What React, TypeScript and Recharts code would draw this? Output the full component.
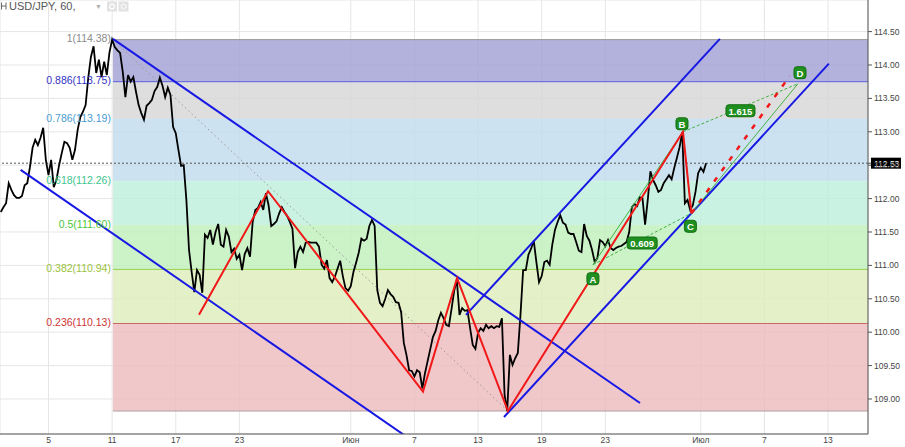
import React from 'react';
import {
  ComposedChart,
  Line,
  XAxis,
  YAxis,
  CartesianGrid,
  ReferenceArea,
  ReferenceLine,
  ReferenceDot,
} from 'recharts';

// ---------- data ----------
// hourly USD/JPY close path, sampled every 1/6 trading day starting 3 trading days before May 5
const priceStartDay = -3;
const priceStepDays = 1 / 6;
const priceValues = [
  111.80, 111.87, 111.93, 112.23, 112.13, 112.05, 112.01, 112.01, 112.04, 112.20,
  112.23, 112.47, 112.76, 112.88, 112.80, 112.91, 113.06, 112.58, 112.35, 112.58,
  112.17, 112.28, 112.50, 112.68, 112.85, 112.83, 112.76, 112.58, 112.73, 113.03,
  113.22, 113.30, 113.40, 113.81, 114.12, 114.28, 113.88, 114.08, 113.82, 114.05,
  113.85, 114.19, 114.38, 114.27, 114.22, 114.18, 113.90, 113.52, 113.85, 113.75,
  113.82, 113.60, 113.40, 113.28, 113.18, 113.39, 113.43, 113.48, 113.61, 113.67,
  113.81, 113.69, 113.52, 113.66, 113.55, 113.07, 112.98, 112.73, 112.49, 112.50,
  111.98, 111.23, 110.90, 110.60, 110.93, 110.86, 110.59, 111.46, 111.41, 111.53,
  111.31, 111.50, 111.62, 111.31, 111.28, 111.53, 111.43, 111.20, 111.25, 111.10,
  111.16, 110.93, 111.17, 111.26, 111.13, 111.65, 111.83, 111.86, 111.95, 111.83,
  112.08, 111.90, 111.59, 111.62, 111.66, 111.78, 111.87, 111.80, 111.74, 111.65,
  111.55, 110.96, 111.20, 111.28, 111.20, 111.34, 111.35, 111.34, 111.34, 111.34,
  111.28, 111.01, 110.95, 111.08, 110.81, 110.75, 110.83, 110.95, 111.07, 110.84,
  110.66, 110.62, 110.69, 110.90, 111.04, 111.19, 111.40, 111.37, 111.40, 111.59,
  111.68, 111.59, 110.63, 110.44, 110.39, 110.50, 110.63, 110.57, 110.53, 110.45,
  110.44, 110.30, 109.84, 109.66, 109.43, 109.42, 109.34, 109.43, 109.40, 109.16,
  109.39, 109.57, 109.75, 109.93, 110.02, 110.18, 110.29, 110.21, 110.11, 110.09,
  110.35, 110.62, 110.78, 110.26, 110.36, 110.32, 110.33, 110.06, 109.81, 109.75,
  109.99, 110.06, 110.02, 110.11, 110.06, 110.09, 110.06, 110.09, 110.08, 110.21,
  109.06, 108.82, 109.66, 109.51, 109.61, 109.69, 110.26, 110.93, 110.93, 111.16,
  111.25, 111.37, 111.05, 110.75, 110.84, 111.05, 111.07, 111.01, 111.31, 111.53,
  111.65, 111.75, 111.64, 111.61, 111.49, 111.47, 111.47, 111.35, 111.22, 111.20,
  111.62, 111.44, 111.37, 111.23, 111.05, 111.11, 111.38, 111.35, 111.29, 111.38,
  111.26, 111.23, 111.26, 111.28, 111.29, 111.32, 111.35, 111.50, 111.87, 111.92,
  111.89, 112.02, 112.01, 111.61, 111.98, 112.41, 112.28, 112.20, 112.10, 112.13,
  112.23, 112.29, 112.35, 112.29, 112.46, 112.61, 112.77, 112.99, 111.93, 111.98,
  111.83, 111.90, 112.10, 112.38, 112.46, 112.40, 112.53,
];
const currentPrice = 112.53;

// axes (x in trading days since May 5)
const xDomain = [-3.048, 51.51];
const yDomain = [108.476, 114.973];
const xTickDays = [0, 4, 8, 12, 19, 23, 27, 31, 35, 41, 45, 49];
const xTickLabels = ['5', '11', '17', '23', 'Июн', '7', '13', '19', '23', 'Июл', '7', '13'];
const yTicks = [109, 109.5, 110, 110.5, 111, 111.5, 112, 112.5, 113, 113.5, 114, 114.5];

// Fibonacci retracement
const fibStartDay = 4.05;
const fibRatios = ['1', '0.886', '0.786', '0.618', '0.5', '0.382', '0.236', '0'];
const fibValues = [114.38, 113.75, 113.19, 112.26, 111.6, 110.94, 110.13, 108.82];
const fibLabelColors = ['#8a8a8a', '#3434c4', '#4a9cd2', '#3cc68e', '#4cc63c', '#9ac23a', '#cc3434', '#a09090'];
const fibLineColors = ['#9a9a9a', '#5c5ce0', '#cfe4f2', '#cdf3e5', '#cff3cb', '#9ad24c', '#c86868', '#b0a0a0'];
const fibBandColors = ['#9f9fd3', '#d6d6d6', '#bfdbec', '#bdefdb', '#bfefba', '#ddecba', '#ecbabd'];

// drawings
const descChannelUpper = [{ d: 4.05, v: 114.39 }, { d: 37.18, v: 108.94 }];
const descChannelLower = [{ d: -1.75, v: 112.43 }, { d: 22.72, v: 108.4 }];
const ascChannelLower = [{ d: 28.63, v: 108.73 }, { d: 49.05, v: 114.02 }];
const ascChannelUpper = [{ d: 26.24, v: 110.26 }, { d: 42.2, v: 114.39 }];
const fibTrendLine = [{ d: 4.05, v: 114.38 }, { d: 28.88, v: 108.82 }];
const redZigzagDays = [9.46, 13.8, 23.54, 25.68, 28.88, 39.88, 40.41];
const redZigzagValues = [110.26, 112.11, 109.11, 110.81, 108.82, 113.0, 111.78];
const redProjection = [{ d: 40.41, v: 111.78 }, { d: 46.6, v: 113.84 }];

// ABCD pattern
const patternNames = ['A', 'B', 'C', 'D'];
const patternDays = [34.22, 39.88, 40.41, 47.11];
const patternValues = [111.01, 113.0, 111.78, 113.72];
const ratioAC = '0.609';
const ratioBD = '1.615';

// ---------- helpers ----------
const FONT = 'Liberation Sans, Arial, sans-serif';
const priceData = priceValues.map((v, i) => ({ d: priceStartDay + i * priceStepDays, v }));
const redZigzag = redZigzagDays.map((d, i) => ({ d, v: redZigzagValues[i] }));
const pt = (i: number) => ({ d: patternDays[i], v: patternValues[i] });
const mid = (a: number, b: number) => ({
  d: (patternDays[a] + patternDays[b]) / 2,
  v: (patternValues[a] + patternValues[b]) / 2,
});

const badge = (text: string, w: number, dx: number, dy: number) => (props: any) => {
  const { cx, cy } = props;
  if (cx == null || cy == null) return <g />;
  const h = 12;
  return (
    <g>
      <rect x={cx + dx - w / 2} y={cy + dy - h / 2} width={w} height={h} rx={3} fill="#1f8f1f" stroke="#137013" strokeWidth={1} />
      <text x={cx + dx} y={cy + dy + 0.5} textAnchor="middle" dominantBaseline="central" fill="#ffffff" fontSize={9.5} fontWeight="bold" fontFamily={FONT}>
        {text}
      </text>
    </g>
  );
};

const fibLabel = (text: string, color: string) => (props: any) => {
  const { cx, cy } = props;
  if (cx == null || cy == null) return <g />;
  return (
    <text x={cx - 2} y={cy - 1.5} textAnchor="end" dominantBaseline="central" fill={color} fontSize={10.5} fontFamily={FONT}>
      {text}
    </text>
  );
};

const priceTag = (props: any) => {
  const { cx, cy } = props;
  if (cx == null || cy == null) return <g />;
  return (
    <g>
      <line x1={cx} x2={cx + 4} y1={cy} y2={cy} stroke="#555" />
      <rect x={cx + 3} y={cy - 5.5} width={30} height={11} fill="#000" />
      <text x={cx + 6} y={cy + 0.5} dominantBaseline="central" fill="#fff" fontSize={8.5} fontFamily={FONT}>
        {currentPrice.toFixed(2)}
      </text>
    </g>
  );
};

const badgeOffsets = [
  { dx: 0, dy: 14 },
  { dx: -1, dy: -8 },
  { dx: -1, dy: 13 },
  { dx: 2, dy: -11 },
];

export default function App() {
  return (
    <div style={{ position: 'absolute', left: 0, top: 0, width: 905, height: 447, background: '#fff' }}>
      <ComposedChart width={905} height={447} margin={{ top: 0, right: 0, bottom: 0, left: 0 }}>
        <CartesianGrid stroke="#e6e6e6" strokeWidth={1} />
        <XAxis
          type="number"
          dataKey="d"
          domain={xDomain}
          allowDataOverflow
          ticks={xTickDays}
          tickFormatter={(v: number) => xTickLabels[xTickDays.indexOf(v)] ?? ''}
          height={13}
          tickLine={false}
          tickSize={0}
          tickMargin={3}
          axisLine={{ stroke: '#555' }}
          tick={{ fontSize: 8.5, fill: '#444', fontFamily: FONT }}
          interval={0}
        />
        <YAxis
          type="number"
          orientation="right"
          domain={yDomain}
          allowDataOverflow
          ticks={yTicks}
          tickFormatter={(v: number) => v.toFixed(2)}
          width={37}
          tickSize={4}
          tickMargin={2}
          tickLine={{ stroke: '#555' }}
          axisLine={{ stroke: '#555' }}
          tick={{ fontSize: 8.5, fill: '#444', fontFamily: FONT }}
          interval={0}
        />

        {fibBandColors.map((c, i) => (
          <ReferenceArea
            key={'band' + i}
            x1={fibStartDay}
            x2={xDomain[1]}
            y1={fibValues[i + 1]}
            y2={fibValues[i]}
            fill={c}
            fillOpacity={0.8}
            stroke="none"
          />
        ))}
        {fibValues.map((v, i) => (
          <ReferenceLine
            key={'fl' + i}
            segment={[{ x: fibStartDay, y: v }, { x: xDomain[1], y: v }]}
            stroke={fibLineColors[i]}
            strokeWidth={1}
          />
        ))}

        <ReferenceLine y={currentPrice} stroke="#555" strokeDasharray="2 2" strokeWidth={1} />

        <Line data={fibTrendLine} dataKey="v" stroke="#9a9a9a" strokeDasharray="1.5 3" strokeWidth={1} dot={false} isAnimationActive={false} />

        <Line data={priceData} dataKey="v" stroke="#000" strokeWidth={1.8} dot={false} isAnimationActive={false} strokeLinejoin="miter" />

        <Line data={descChannelUpper} dataKey="v" stroke="#1818e4" strokeWidth={2} dot={false} isAnimationActive={false} />
        <Line data={descChannelLower} dataKey="v" stroke="#1818e4" strokeWidth={2} dot={false} isAnimationActive={false} />
        <Line data={ascChannelLower} dataKey="v" stroke="#1818e4" strokeWidth={2} dot={false} isAnimationActive={false} />
        <Line data={ascChannelUpper} dataKey="v" stroke="#1818e4" strokeWidth={2} dot={false} isAnimationActive={false} />

        <Line data={[pt(0), pt(1)]} dataKey="v" stroke="#44b044" strokeWidth={1} dot={false} isAnimationActive={false} />
        <Line data={[pt(1), pt(2)]} dataKey="v" stroke="#44b044" strokeWidth={1} dot={false} isAnimationActive={false} />
        <Line data={[pt(2), pt(3)]} dataKey="v" stroke="#44b044" strokeWidth={1} dot={false} isAnimationActive={false} />
        <Line data={[pt(0), pt(2)]} dataKey="v" stroke="#44b044" strokeWidth={1} strokeDasharray="3 2" dot={false} isAnimationActive={false} />
        <Line data={[pt(1), pt(3)]} dataKey="v" stroke="#44b044" strokeWidth={1} strokeDasharray="3 2" dot={false} isAnimationActive={false} />

        <Line data={redZigzag} dataKey="v" stroke="#f01818" strokeWidth={2} dot={false} isAnimationActive={false} />
        <Line data={redProjection} dataKey="v" stroke="#f01818" strokeWidth={2.5} strokeDasharray="5 8" dot={false} isAnimationActive={false} />

        {fibRatios.slice(0, 7).map((r, i) => (
          <ReferenceDot
            key={'fbl' + i}
            x={fibStartDay}
            y={fibValues[i]}
            r={0}
            shape={fibLabel(`${r}(${fibValues[i].toFixed(2)})`, fibLabelColors[i])}
          />
        ))}

        <ReferenceDot x={mid(0, 2).d} y={mid(0, 2).v} r={0} shape={badge(ratioAC, 30, 0, 4)} />
        <ReferenceDot x={mid(1, 3).d} y={mid(1, 3).v} r={0} shape={badge(ratioBD, 29, 0, 3)} />
        {patternNames.map((n, i) => (
          <ReferenceDot
            key={'pt' + n}
            x={patternDays[i]}
            y={patternValues[i]}
            r={0}
            shape={badge(n, 12, badgeOffsets[i].dx, badgeOffsets[i].dy)}
          />
        ))}

        <ReferenceDot x={xDomain[1] - 0.001} y={currentPrice} r={0} shape={priceTag} />
      </ComposedChart>

      <svg width={140} height={14} style={{ position: 'absolute', left: 0, top: 0 }}>
        <path d="M1.5,2.5 V9.5 M1.5,6 H6 M6,2.5 V9.5" stroke="#666" strokeWidth={1} fill="none" />
        <text x={9} y={9.5} fontSize={11} fill="#555" fontFamily={FONT}>
          USD/JPY, 60,
        </text>
        <text x={95} y={9} fontSize={7} fill="#b0b0b0" fontFamily={FONT}>
          ▼
        </text>
        <rect x={107} y={1.5} width={10} height={10} fill="#e2e2e2" />
        <circle cx={112} cy={6.5} r={2.3} fill="none" stroke="#fff" strokeWidth={1.2} />
        <rect x={118.5} y={1.5} width={10} height={10} fill="#e2e2e2" />
        <circle cx={123.5} cy={6.5} r={2.3} fill="none" stroke="#fff" strokeWidth={1.6} strokeDasharray="1.2 1" />
      </svg>
    </div>
  );
}
